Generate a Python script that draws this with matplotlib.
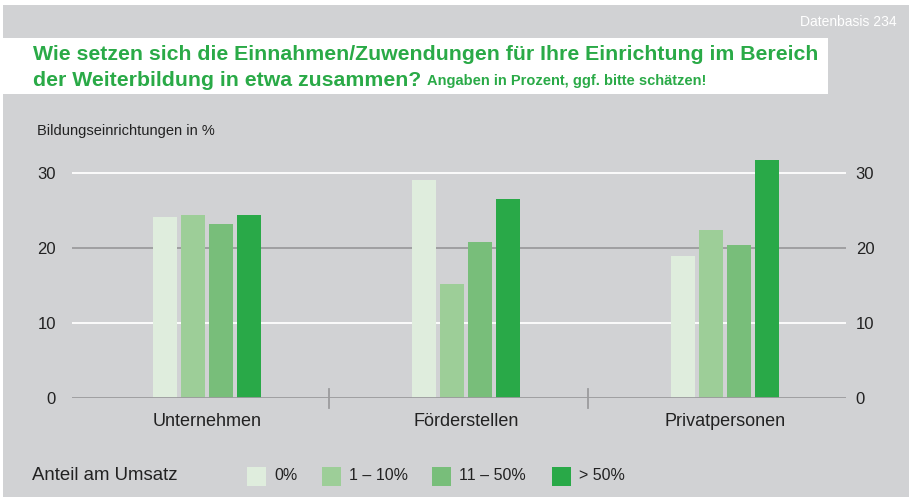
import numpy as np
import matplotlib
matplotlib.use("Agg")
import matplotlib.pyplot as plt
from matplotlib.patches import Rectangle

plt.rcParams['font.family'] = ['Liberation Sans', 'DejaVu Sans']

# data
categories = ["Unternehmen", "Förderstellen", "Privatpersonen"]
series_labels = ["0%", "1 – 10%", "11 – 50%", "> 50%"]
v_0 = [24.2, 29.1, 19.0]
v_1_10 = [24.4, 15.2, 22.4]
v_11_50 = [23.2, 20.8, 20.4]
v_50 = [24.4, 26.6, 31.8]
yticks = [0, 10, 20, 30]

series = [v_0, v_1_10, v_11_50, v_50]
colors = ["#dfeddd", "#9dce98", "#78be7a", "#29a948"]
bg = "#d1d2d4"
green = "#2aaa47"
txt = "#222222"

fig = plt.figure(figsize=(9.09, 4.97), dpi=100)
fig.patch.set_facecolor("white")
# grey panel
fig.patches.append(Rectangle((3 / 909, 0), 1 - 3 / 909, 1 - 5 / 497, transform=fig.transFigure,
                             facecolor=bg, edgecolor="none", zorder=-2))
# white title box
fig.patches.append(Rectangle((3 / 909, 1 - 94 / 497), 825 / 909, 56 / 497, transform=fig.transFigure,
                             facecolor="white", edgecolor="none", zorder=-1))

fig.text(897 / 909, 1 - 22 / 497, "Datenbasis 234", color="white", fontsize=10,
         ha="right", va="center")
fig.text(33 / 909, 1 - 55 / 497, "Wie setzen sich die Einnahmen/Zuwendungen für Ihre Einrichtung im Bereich",
         color=green, fontsize=15.35, fontweight="bold", ha="left", va="center")
t2 = fig.text(33 / 909, 1 - 80 / 497, "der Weiterbildung in etwa zusammen? ",
              color=green, fontsize=15.35, fontweight="bold", ha="left", va="center")
fig.canvas.draw()
bb = t2.get_window_extent()
fig.text(bb.x1 / 909, 1 - 81 / 497, "Angaben in Prozent, ggf. bitte schätzen!",
         color=green, fontsize=10.5, fontweight="bold", ha="left", va="center")

fig.text(37 / 909, 1 - 131 / 497, "Bildungseinrichtungen in %", color=txt,
         fontsize=10.5, ha="left", va="center")

ax = fig.add_axes([72 / 909, (497 - 398.3) / 497, 774 / 909, 240 / 497])
ax.set_facecolor("none")
ax.set_xlim(-135 / 259, 2 + 121 / 259)
ax.set_ylim(0, 32)
for s in ax.spines.values():
    s.set_visible(False)

x = np.arange(len(categories))
step = 28.3 / 259
width = 24 / 259
for i, (vals, c) in enumerate(zip(series, colors)):
    ax.bar(x + (i - 1.5) * step, vals, width=width, color=c, zorder=3, label=series_labels[i])

# grid lines
for yv in yticks[1:]:
    col = "#9b9b9d" if yv == 20 else "white"
    ax.axhline(yv, color=col, lw=1.3, zorder=1)
ax.axhline(0, color="#9b9b9d", lw=1.3, zorder=4)
for sx in [0.471, 1.471]:
    ax.plot([sx, sx], [-1.3, 1.3], color="#9b9b9d", lw=1.3, clip_on=False, zorder=4)

ax.set_yticks(yticks)
ax.tick_params(axis="y", length=0, labelsize=12, labelcolor=txt, pad=11.5)
ax.set_xticks(x)
ax.set_xticklabels(categories, fontsize=13, color=txt)
ax.tick_params(axis="x", length=0, pad=10.5)

# right-hand tick labels
ax2 = ax.twinx()
ax2.set_ylim(ax.get_ylim())
ax2.set_yticks(yticks)
ax2.tick_params(axis="y", length=0, labelsize=12, labelcolor=txt, pad=7)
for s in ax2.spines.values():
    s.set_visible(False)

# legend row
fig.text(32 / 909, 1 - 475 / 497, "Anteil am Umsatz", fontsize=13.4, color=txt,
         ha="left", va="center")
leg_x = [247, 322, 432, 552]
for lx, lab, c in zip(leg_x, series_labels, colors):
    fig.patches.append(Rectangle((lx / 909, 1 - 486 / 497), 19 / 909, 19 / 497,
                                 transform=fig.transFigure, facecolor=c, edgecolor="none"))
    fig.text((lx + 27) / 909, 1 - 476 / 497, lab, fontsize=11.5, color=txt,
             ha="left", va="center")

fig.savefig("out.png", dpi=100, facecolor=fig.get_facecolor())
